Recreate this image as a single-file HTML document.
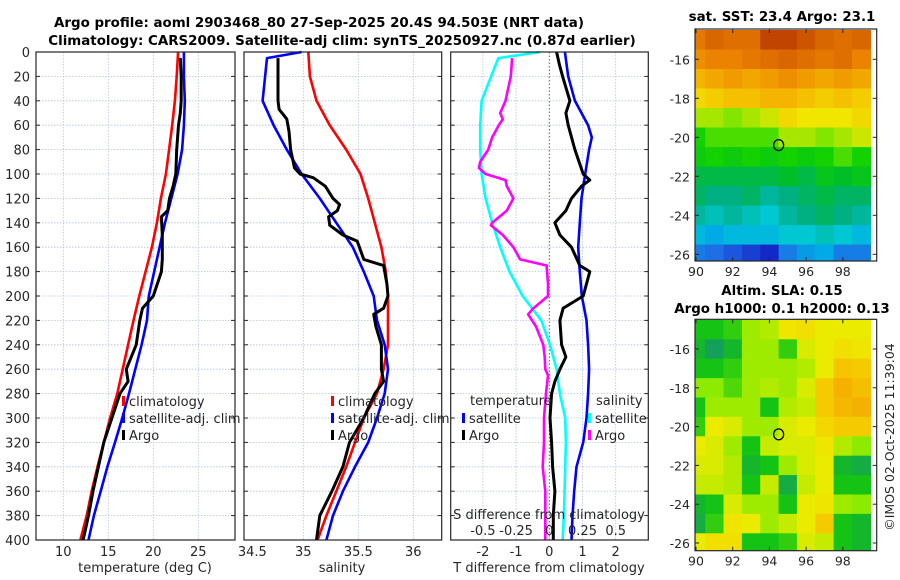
<!DOCTYPE html>
<html><head><meta charset="utf-8"><style>
html,body{margin:0;padding:0;background:#fff}
svg{display:block;font-family:"DejaVu Sans","Liberation Sans",sans-serif}
</style></head><body>
<svg id="chart" width="900" height="580" viewBox="0 0 900 580" xmlns="http://www.w3.org/2000/svg"></svg>
<script>
// ---------- data ----------
const depthTicks=[0,20,40,60,80,100,120,140,160,180,200,220,240,260,280,300,320,340,360,380,400];
const tempTicks=[10,15,20,25];
const salTicks=[34.5,35,35.5,36];
const tdiffTicks=[-2,-1,0,1,2];
const sdiffTicks=[-0.5,-0.25,0,0.25,0.5];
const sdiffTickLabels=["-0.5","-0.25","0","0.25","0.5"];
const lonTicks=[90,92,94,96,98];
const latTicks=[-16,-18,-20,-22,-24,-26];

const climDepth=[0,20,40,60,80,100,120,140,160,180,200,220,240,260,280,300,320,340,360,380,400];
const climTemp=[22.75,22.6,22.4,22.1,21.75,21.4,20.85,20.4,19.85,19.15,18.45,17.8,17.2,16.6,16.0,15.2,14.5,13.8,13.15,12.6,11.9];
const satTemp=[23.4,23.4,23.5,23.4,23.2,22.7,22.0,21.3,20.7,20.1,19.5,19.3,18.7,18.0,17.3,16.55,15.75,14.9,14.15,13.4,12.8];
const argoTDepth=[5,20,40,50,60,80,100,110,120,130,135,150,170,180,200,210,220,240,260,270,280,300,320,340,360,380,400];
const argoTemp=[23.0,23.1,23.1,23.0,22.8,22.6,22.5,22.2,21.8,21.6,20.9,21.0,21.0,20.9,20.0,18.8,18.5,18.1,17.0,17.2,16.3,15.4,14.5,13.9,13.3,12.8,12.2];

const climSal=[35.045,35.06,35.12,35.24,35.39,35.52,35.59,35.65,35.71,35.75,35.77,35.77,35.77,35.73,35.67,35.55,35.47,35.39,35.30,35.21,35.13];
const satSalDepth=[0,5,40,60,80,100,120,140,160,180,200,220,240,260,280,300,320,340,360,380,400];
const satSal=[34.985,34.67,34.63,34.73,34.85,34.985,35.15,35.30,35.45,35.55,35.64,35.67,35.74,35.77,35.74,35.67,35.59,35.47,35.36,35.27,35.21];
const argoSDepth=[5,20,40,47,55,65,80,95,100,103,110,120,125,130,135,142,150,155,170,175,190,200,210,215,225,240,260,270,280,300,320,340,360,380,400];
const argoSal=[34.77,34.77,34.77,34.78,34.85,34.87,34.885,34.92,34.97,35.09,35.2,35.27,35.33,35.31,35.23,35.24,35.36,35.49,35.55,35.73,35.76,35.77,35.73,35.64,35.66,35.71,35.71,35.73,35.65,35.55,35.42,35.36,35.26,35.15,35.12];

const satTdiffDepth=[0,20,40,60,70,80,100,120,140,160,180,200,220,240,260,280,300,320,340,360,380,400];
const satTdiff=[0.47,0.57,0.77,1.17,1.28,1.2,1.08,0.97,0.92,0.87,0.92,0.98,1.12,1.17,1.2,1.17,1.12,1.02,0.82,0.75,0.7,0.67];
const argoTdiffDepth=[0,10,20,40,50,60,80,100,105,110,120,130,140,150,160,175,180,190,200,205,210,220,240,250,260,270,280,300,320,340,360,380,400];
const argoTdiff=[0.22,0.3,0.4,0.62,0.5,0.57,0.77,1.02,1.22,0.97,0.67,0.5,0.17,0.32,0.67,0.92,1.22,1.12,1.02,0.72,0.42,0.32,0.37,0.5,0.32,0.17,0.07,0.02,0.07,0.1,0.17,0.12,0.12];
const satSdiffDepth=[0,5,40,60,80,100,120,140,160,180,200,220,240,260,280,300,320,340,360,380,400];
const satSdiff=[-0.07,-0.384,-0.51,-0.52,-0.52,-0.51,-0.48,-0.43,-0.37,-0.30,-0.2,-0.06,0.005,0.055,0.08,0.12,0.125,0.12,0.115,0.11,0.10];
const argoSdiffDepth=[5,20,40,50,55,60,70,80,90,95,100,105,110,120,130,140,142,150,160,170,175,190,200,210,215,225,240,250,260,265,280,300,320,340,360,380,400];
const argoSdiff=[-0.28,-0.29,-0.33,-0.37,-0.35,-0.38,-0.43,-0.46,-0.52,-0.53,-0.48,-0.33,-0.32,-0.27,-0.32,-0.43,-0.44,-0.35,-0.27,-0.22,-0.02,-0.01,-0.01,-0.12,-0.16,-0.1,-0.045,-0.035,-0.03,-0.01,-0.025,-0.04,-0.04,-0.05,-0.03,-0.03,-0.03];

const sstGrid=[
[24.4,24.6,24.5,24.5,24.9,24.9,24.8,24.6,24.5,24.6],
[24.2,24.3,24.3,24.4,24.5,24.6,24.5,24.4,24.5,24.3],
[23.9,24.0,24.1,24.0,24.1,24.2,24.1,24.0,24.1,24.0],
[23.6,23.7,23.8,23.8,23.9,23.9,23.8,23.7,23.8,23.7],
[23.3,23.3,23.2,23.3,23.4,23.6,23.5,23.5,23.5,23.6],
[23.0,23.1,23.1,23.1,23.1,23.3,23.3,23.2,23.3,23.4],
[22.9,23.0,22.9,23.0,22.9,23.0,22.9,23.0,23.1,23.0],
[22.6,22.6,22.6,22.6,22.6,22.7,22.6,22.8,22.7,22.8],
[22.5,22.4,22.4,22.5,22.3,22.4,22.5,22.6,22.5,22.5],
[22.3,22.2,22.3,22.2,22.1,22.3,22.4,22.5,22.4,22.3],
[22.0,21.9,22.0,22.0,22.0,22.1,22.1,22.2,22.1,22.0],
[21.6,21.5,21.4,21.3,21.2,21.6,21.8,21.9,21.6,21.6]];
const slaGrid=[
[0.06,0.06,0.07,0.11,0.12,0.16,0.17,0.15,0.15,0.15],
[0.05,0.03,0.05,0.11,0.11,0.07,0.14,0.15,0.17,0.16],
[0.06,0.06,0.07,0.11,0.11,0.11,0.12,0.15,0.21,0.2],
[0.1,0.1,0.08,0.11,0.12,0.11,0.14,0.2,0.24,0.22],
[0.06,0.11,0.11,0.11,0.06,0.12,0.13,0.2,0.23,0.24],
[0.07,0.15,0.14,0.11,0.11,0.14,0.15,0.18,0.2,0.2],
[0.15,0.14,0.11,0.06,0.13,0.14,0.14,0.16,0.12,0.1],
[0.14,0.14,0.12,0.05,0.06,0.11,0.14,0.15,0.05,0.04],
[0.13,0.13,0.12,0.06,0.13,0.04,0.13,0.15,0.06,0.06],
[0.05,0.06,0.14,0.11,0.11,0.06,0.15,0.16,0.11,0.1],
[0.04,0.07,0.16,0.15,0.11,0.13,0.15,0.2,0.06,0.05],
[0.15,0.17,0.17,0.06,0.06,0.07,0.14,0.13,0.06,0.05]];
const argoLon=94.503, argoLat=-20.4;

// ---------- helpers ----------
const NS="http://www.w3.org/2000/svg";
const svg=document.getElementById('chart');
function el(tag,attrs,parent){const e=document.createElementNS(NS,tag);for(const k in attrs)e.setAttribute(k,attrs[k]);(parent||svg).appendChild(e);return e;}
function txt(s,x,y,attrs,parent){const e=el('text',Object.assign({x:x,y:y,fill:'#262626','font-size':13},attrs||{}),parent);e.textContent=s;return e;}
const yTop=52,yBot=540;
const yD=d=>yTop+(d/400)*(yBot-yTop);
const panels={
 t:{x0:36,x1:235,f:v=>63.3+(v-10)*9},
 s:{x0:244,x1:441.7,f:v=>303.3+(v-35)*110},
 d:{x0:450.7,x1:648.3,f:v=>549.3+v*33.2}
};
const fS=v=>549.3+v*132.8;

function frame(p,name){
  const g=el('g',{});
  
  
  depthTicks.forEach(d=>{ if(d>0&&d<400) el('line',{x1:p.x0,x2:p.x1,y1:yD(d),y2:yD(d),stroke:'#b4c0e0','stroke-width':0.8,'stroke-dasharray':'1.5 1.5'},g);});
  return g;
}
function box(p){
  const g=el('g',{});
  el('rect',{x:p.x0,y:yTop,width:p.x1-p.x0,height:yBot-yTop,fill:'none',stroke:'#262626','stroke-width':1.2},g);
  depthTicks.forEach(d=>{el('line',{x1:p.x0,x2:p.x0+4,y1:yD(d),y2:yD(d),stroke:'#262626'},g);el('line',{x1:p.x1-4,x2:p.x1,y1:yD(d),y2:yD(d),stroke:'#262626'},g);});
}
function vgrid(p,vals,g){vals.forEach(v=>{const x=p.f(v);el('line',{x1:x,x2:x,y1:yTop,y2:yBot,stroke:'#b4c0e0','stroke-width':0.8,'stroke-dasharray':'1.5 1.5'},g);});}
function line(depths,vals,fx,color,name,w){
  const pts=depths.map((d,i)=>fx(vals[i]).toFixed(1)+','+yD(d).toFixed(1)).join(' ');
  const e=el('polyline',{points:pts,fill:'none',stroke:color,'stroke-width':w||2.6,'stroke-linejoin':'round'});
  
  
  return e;
}
function legendEntry(x,y,color,label,name){
  const g=el('g',{});
  
  
  el('rect',{x:x,y:y-10,width:3,height:10,fill:color},g);
  txt(label,x+7,y,{'font-size':13},g);
}
function named(e,n){return e;}

named(txt('Argo profile: aoml 2903468_80 27-Sep-2025 20.4S 94.503E (NRT data)',319,27,{'text-anchor':'middle','font-weight':'bold','font-size':13.4,fill:'#000'}),'title-line1');
named(txt('Climatology: CARS2009. Satellite-adj clim: synTS_20250927.nc (0.87d earlier)',342,45,{'text-anchor':'middle','font-weight':'bold','font-size':13.4,fill:'#000'}),'title-line2');

depthTicks.forEach(d=>{named(txt(String(d),30,yD(d)+5,{'text-anchor':'end'}),'depth-tick-label');});

// ---- panel 1 temperature
let g1=frame(panels.t,'temperature-panel');vgrid(panels.t,tempTicks,g1);
line(climDepth,climTemp,panels.t.f,'#ff0000','temp-climatology-line');
line(climDepth,satTemp,panels.t.f,'#0000ff','temp-satellite-line');
line(argoTDepth,argoTemp,panels.t.f,'#000000','temp-argo-line',3);
box(panels.t);
tempTicks.forEach(v=>{named(txt(String(v),panels.t.f(v),556,{'text-anchor':'middle'}),'temp-tick-label');});
named(txt('temperature (deg C)',145,572,{'text-anchor':'middle'}),'temp-axis-title');
legendEntry(122,406,'#ff0000','climatology','legend-climatology');
legendEntry(122,423,'#0000ff','satellite-adj. clim','legend-satellite');
legendEntry(122,440,'#000000','Argo','legend-argo');

// ---- panel 2 salinity
let g2=frame(panels.s,'salinity-panel');vgrid(panels.s,salTicks.slice(1),g2);
line(climDepth,climSal,panels.s.f,'#ff0000','sal-climatology-line');
line(satSalDepth,satSal,panels.s.f,'#0000ff','sal-satellite-line');
line(argoSDepth,argoSal,panels.s.f,'#000000','sal-argo-line',3);
box(panels.s);
salTicks.forEach(v=>{named(txt(String(v),panels.s.f(v)+(v===34.5?4:0),556,{'text-anchor':'middle'}),'sal-tick-label');});
named(txt('salinity',342,572,{'text-anchor':'middle'}),'sal-axis-title');
legendEntry(331,406,'#ff0000','climatology','legend-climatology-2');
legendEntry(331,423,'#0000ff','satellite-adj. clim','legend-satellite-2');
legendEntry(331,440,'#000000','Argo','legend-argo-2');

// ---- panel 3 differences
let g3=frame(panels.d,'difference-panel');vgrid(panels.d,[-2,-1,1,2],g3);
el('line',{x1:549.3,x2:549.3,y1:yTop,y2:yBot,stroke:'#556633','stroke-width':1,'stroke-dasharray':'1.5 2'},g3);
line(satSdiffDepth,satSdiff,fS,'#00ffff','sdiff-satellite-line');
line(argoSdiffDepth,argoSdiff,fS,'#ff00ff','sdiff-argo-line');
line(satTdiffDepth,satTdiff,panels.d.f,'#0000ff','tdiff-satellite-line');
line(argoTdiffDepth,argoTdiff,panels.d.f,'#000000','tdiff-argo-line',3);
box(panels.d);
tdiffTicks.forEach(v=>{named(txt(String(v),panels.d.f(v),556,{'text-anchor':'middle'}),'tdiff-tick-label');});
named(txt('T difference from climatology',549,572,{'text-anchor':'middle'}),'tdiff-axis-title');
named(txt('S difference from climatology',549,519,{'text-anchor':'middle'}),'sdiff-axis-title');
sdiffTicks.forEach((v,i)=>{named(txt(sdiffTickLabels[i],fS(v),535,{'text-anchor':'middle'}),'sdiff-tick-label');});
named(txt('temperature',470,405),'legend-temperature-heading');
legendEntry(462,423,'#0000ff','satellite','legend-tdiff-satellite');
legendEntry(462,440,'#000000','Argo','legend-tdiff-argo');
named(txt('salinity',596,405),'legend-salinity-heading');
legendEntry(588,423,'#00ffff','satellite','legend-sdiff-satellite');
legendEntry(588,440,'#ff00ff','Argo','legend-sdiff-argo');

// ---- maps
function interp(stops,v){
  if(v<=stops[0][0])return 'rgb('+stops[0][1].join(',')+')';
  for(let i=1;i<stops.length;i++){if(v<=stops[i][0]){const a=stops[i-1],b=stops[i],t=(v-a[0])/(b[0]-a[0]);return 'rgb('+a[1].map((c,k)=>Math.round(c+(b[1][k]-c)*t)).join(',')+')';}}
  return 'rgb('+stops[stops.length-1][1].join(',')+')';
}
const sstStops=[[21.2,[20,40,200]],[21.5,[30,110,230]],[21.9,[0,170,230]],[22.1,[0,200,210]],[22.4,[0,175,130]],[22.7,[0,190,40]],[23.0,[20,210,0]],[23.2,[130,230,0]],[23.5,[240,230,0]],[23.9,[245,180,0]],[24.3,[235,130,0]],[24.8,[205,85,0]],[25.0,[180,50,0]]];
const slaStops=[[0.03,[20,160,90]],[0.06,[20,195,20]],[0.10,[140,235,0]],[0.15,[235,235,0]],[0.19,[245,210,0]],[0.25,[245,170,0]]];

function map(y0,y1,latFn,grid,stops,name){
  const x0=695,x1=876.7;
  const lonX=l=>696+(l-90)*18.35;
  const g=el('g',{});
  
  
  const clip='clip'+name;
  const cp=el('clipPath',{id:clip},g);el('rect',{x:x0,y:y0,width:x1-x0,height:y1-y0},cp);
  const cells=el('g',{'clip-path':'url(#'+clip+')'},g);
  grid.forEach((row,r)=>row.forEach((v,c)=>{
    const lat=-15-r, lon=90+c;
    const ya=latFn(lat+0.5), yb=latFn(lat-0.5);
    const cell=el('rect',{x:lonX(lon-0.5).toFixed(1),y:ya.toFixed(1),width:(18.35+0.6).toFixed(1),height:(yb-ya+0.6).toFixed(1),fill:interp(stops,v)},cells);
    
  }));
  el('rect',{x:x0,y:y0,width:x1-x0,height:y1-y0,fill:'none',stroke:'#262626','stroke-width':1.2},g);
  lonTicks.forEach(l=>{const x=lonX(l);el('line',{x1:x,x2:x,y1:y1,y2:y1-4,stroke:'#262626'},g);el('line',{x1:x,x2:x,y1:y0,y2:y0+4,stroke:'#262626'},g);
    named(txt(String(l),x,y1+15,{'text-anchor':'middle','font-size':12.5}),'lon-tick-label');});
  latTicks.forEach(l=>{const y=latFn(l);el('line',{x1:x1,x2:x1-4,y1:y,y2:y,stroke:'#262626'},g);el('line',{x1:x0,x2:x0+4,y1:y,y2:y,stroke:'#262626'},g);
    named(txt(String(l),690,y+5,{'text-anchor':'end','font-size':12.5}),'lat-tick-label');});
  const m=el('ellipse',{cx:lonX(argoLon),cy:latFn(argoLat),rx:5,ry:5.5,fill:'none',stroke:'#000','stroke-width':1.3},g);
  
  
}
map(29,261,lat=>59.3+(-16-lat)*19.5,sstGrid,sstStops,'sst-map');
map(319.3,550.7,lat=>349+(-16-lat)*19.4,slaGrid,slaStops,'sla-map');
named(txt('sat. SST: 23.4 Argo: 23.1',782,21,{'text-anchor':'middle','font-weight':'bold','font-size':13.4,fill:'#000'}),'sst-map-title');
named(txt('Altim. SLA: 0.15',782,295,{'text-anchor':'middle','font-weight':'bold','font-size':13.4,fill:'#000'}),'sla-map-title');
named(txt('Argo h1000: 0.1 h2000: 0.13',782,313,{'text-anchor':'middle','font-weight':'bold','font-size':13.4,fill:'#000'}),'sla-map-subtitle');
named(txt('©IMOS 02-Oct-2025 11:39:04',0,0,{'text-anchor':'middle','font-size':12.5,transform:'translate(894,437) rotate(-90)'}),'copyright-timestamp');
</script>
</body></html>
